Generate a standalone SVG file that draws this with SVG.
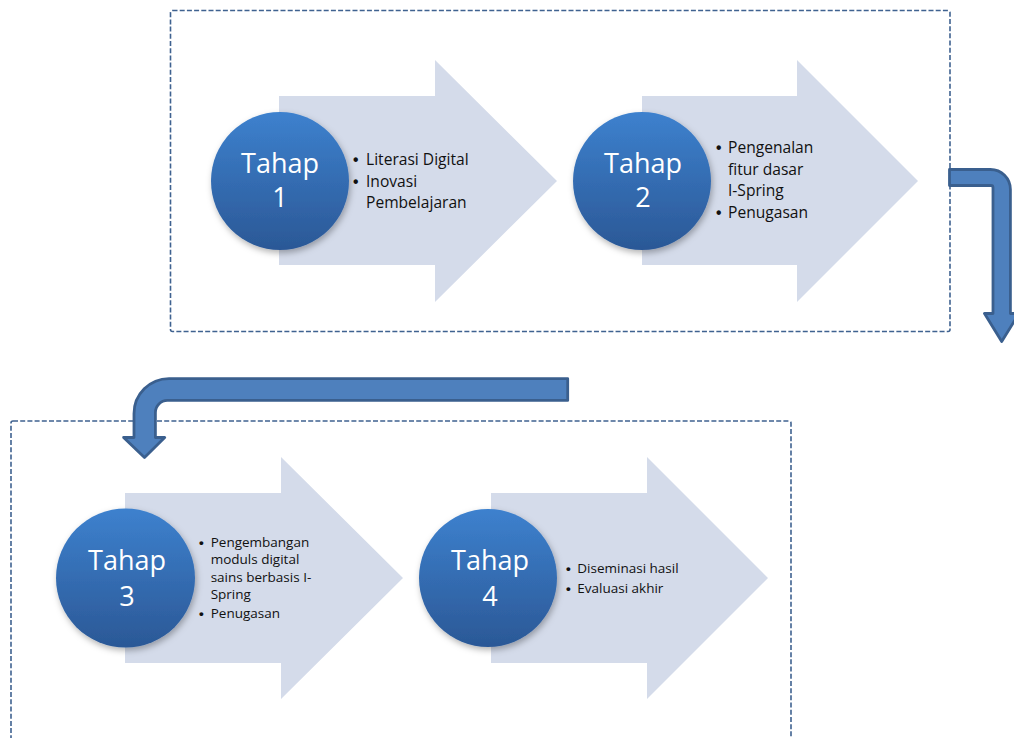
<svg xmlns="http://www.w3.org/2000/svg" width="1014" height="738" viewBox="0 0 1014 738">
<defs>
<linearGradient id="cg" x1="0" y1="0" x2="0" y2="1">
<stop offset="0" stop-color="#3d81ce"/>
<stop offset="1" stop-color="#2b5896"/>
</linearGradient>
<filter id="sh" x="-20%" y="-20%" width="150%" height="150%">
<feDropShadow dx="1.5" dy="3" stdDeviation="3" flood-color="#000" flood-opacity="0.3"/>
</filter>
<style>
.frame{fill:none;stroke:#3f6290;stroke-width:1.6;stroke-dasharray:5 2.2}
.arr{fill:#d4dbea}
.circ{fill:url(#cg);filter:url(#sh)}
.lbl{font-family:"Open Sans","Liberation Sans",sans-serif;font-size:27px;fill:#ffffff;text-anchor:middle}
.bl{font-family:"Open Sans","Liberation Sans",sans-serif;font-size:15.6px;fill:#111111}
.bs{font-family:"Open Sans","Liberation Sans",sans-serif;font-size:13.5px;fill:#111111}
.dot{font-family:"Liberation Sans",sans-serif;font-weight:bold}
.bent{fill:#4e80bd;stroke:#3a5f8e;stroke-width:2.8;stroke-linejoin:round}
</style>
</defs>
<rect class="frame" x="170.5" y="10.5" width="779.5" height="321" rx="2"/>
<rect class="frame" x="11" y="421" width="780" height="340" rx="2"/>

<g id="tahap1">
<polygon class="arr" points="279,96 435,96 435,60 557,181 435,302 435,265 279,265"/>
<circle class="circ" cx="280" cy="181" r="69"/>
<text class="lbl" x="280" y="173">Tahap</text>
<text class="lbl" x="280" y="207">1</text>
<text class="bl"><tspan class="dot" x="353" y="165">•</tspan><tspan x="366" y="165">Literasi Digital</tspan><tspan class="dot" x="353" y="187">•</tspan><tspan x="366" y="187">Inovasi</tspan><tspan x="366" y="208">Pembelajaran</tspan></text>
</g>

<g id="tahap2">
<polygon class="arr" points="642,96 797,96 797,60 918,181 797,302 797,265 642,265"/>
<circle class="circ" cx="642" cy="181" r="69"/>
<text class="lbl" x="643" y="173">Tahap</text>
<text class="lbl" x="643" y="207">2</text>
<text class="bl"><tspan class="dot" x="716" y="153">•</tspan><tspan x="728" y="153">Pengenalan</tspan><tspan x="728" y="174.5">fitur dasar</tspan><tspan x="728" y="196">I-Spring</tspan><tspan class="dot" x="716" y="218">•</tspan><tspan x="728" y="218">Penugasan</tspan></text>
</g>

<g id="tahap3">
<polygon class="arr" points="125,493 281,493 281,457 403,578 281,699 281,663 125,663"/>
<circle class="circ" cx="125.5" cy="578" r="69.5"/>
<text class="lbl" x="127" y="570">Tahap</text>
<text class="lbl" x="127" y="606">3</text>
<text class="bs"><tspan class="dot" x="199" y="546.7">•</tspan><tspan x="210.7" y="546.7">Pengembangan</tspan><tspan x="210.7" y="564.2">moduls digital</tspan><tspan x="210.7" y="581.7">sains berbasis I-</tspan><tspan x="210.7" y="599.2">Spring</tspan><tspan class="dot" x="199" y="618.3">•</tspan><tspan x="210.7" y="618.3">Penugasan</tspan></text>
</g>

<g id="tahap4">
<polygon class="arr" points="491,493 647,493 647,457 768,578 647,699 647,663 491,663"/>
<circle class="circ" cx="488" cy="578" r="69"/>
<text class="lbl" x="490" y="570">Tahap</text>
<text class="lbl" x="490" y="606">4</text>
<text class="bs"><tspan class="dot" x="566" y="573.3">•</tspan><tspan x="577.3" y="573.3">Diseminasi hasil</tspan><tspan class="dot" x="566" y="592.7">•</tspan><tspan x="577.3" y="592.7">Evaluasi akhir</tspan></text>
</g>

<g id="connectors">
<path class="bent" d="M949.5,169.5 L990.4,169.5 A20 20 0 0 1 1010.4,189.5 L1010.4,313.5 L1019,313.5 L1001.7,341.5 L984.5,313.5 L993,313.5 L993,187.5 A2 2 0 0 0 991,185.5 L949.5,185.5 Z"/>
<path class="bent" d="M567.7,378.6 L169,378.6 A35 35 0 0 0 134,413.6 L134,437.5 L123.6,437.5 L144.5,457.5 L164.7,437.5 L155.4,437.5 L155.4,412.4 A12 12 0 0 1 167.4,400.4 L567.7,400.4 Z"/>
</g>
</svg>
